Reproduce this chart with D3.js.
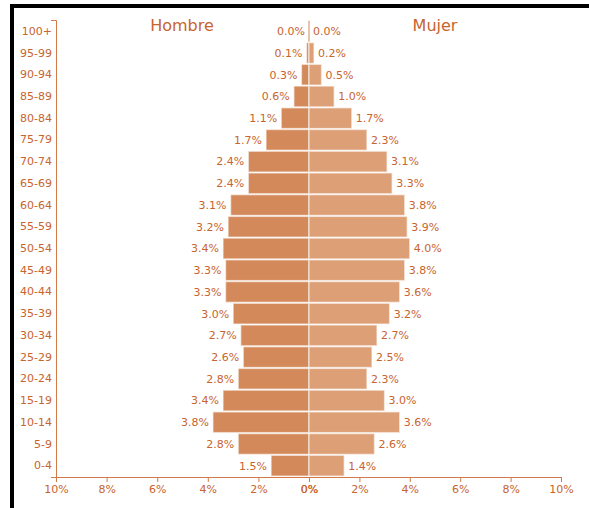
<!DOCTYPE html>
<html>
<head>
<meta charset="utf-8">
<script src="https://cdn.jsdelivr.net/npm/d3@7"></script>
<style>
  body { margin: 0; background: #fff; font-family: "DejaVu Sans", sans-serif; overflow: hidden; }
  #frame { position: absolute; left: 10px; top: 4px; width: 600px; height: 520px; border-left: 4px solid #000; border-top: 4px solid #000; }
  svg { position: absolute; left: 0; top: 0; }
  .lbl { font-size: 11px; fill: #c8642e; }
  .axis text { font-size: 11px; fill: #c8642e; font-family: "DejaVu Sans", sans-serif; }
  .axis path, .axis line { stroke: #d07a48; }
</style>
</head>
<body>
<div id="frame"></div>
<div id="chart"></div>
<script>
var ages = ["100+", "95-99", "90-94", "85-89", "80-84", "75-79", "70-74", "65-69", "60-64", "55-59",
  "50-54", "45-49", "40-44", "35-39", "30-34", "25-29", "20-24", "15-19", "10-14", "5-9", "0-4"];
var hombre = [0.0, 0.1, 0.3, 0.6, 1.1, 1.7, 2.4, 2.4, 3.1, 3.2, 3.4, 3.3, 3.3, 3.0, 2.7, 2.6, 2.8, 3.4, 3.8, 2.8, 1.5];
var mujer = [0.0, 0.2, 0.5, 1.0, 1.7, 2.3, 3.1, 3.3, 3.8, 3.9, 4.0, 3.8, 3.6, 3.2, 2.7, 2.5, 2.3, 3.0, 3.6, 2.6, 1.4];
var xTicks = [0, 2, 4, 6, 8, 10];

var width = 589, height = 508;
var mLeft = 56, mCenter = 309, mRight = 561, mTop = 20, mBottom = 477;

var svg = d3.select("#chart").append("svg")
  .attr("width", width)
  .attr("height", height);

var xL = d3.scaleLinear().domain([10, 0]).range([mLeft, mCenter]);
var xR = d3.scaleLinear().domain([0, 10]).range([mCenter, mRight]);
var y = d3.scaleBand().domain(ages).range([mTop, mBottom]).padding(0.04);

// bars, hombre
svg.append("g").selectAll("rect")
  .data(hombre)
  .enter().append("rect")
    .attr("x", function(d) { return xL(d); })
    .attr("y", function(d, i) { return y(ages[i]); })
    .attr("width", function(d) { return mCenter - xL(d); })
    .attr("height", y.bandwidth())
    .attr("fill", "#d4895a")
    .attr("stroke", "rgba(255,255,255,0.55)")
    .attr("stroke-width", 1.5);

// bars, mujer
svg.append("g").selectAll("rect")
  .data(mujer)
  .enter().append("rect")
    .attr("x", mCenter)
    .attr("y", function(d, i) { return y(ages[i]); })
    .attr("width", function(d) { return xR(d) - mCenter; })
    .attr("height", y.bandwidth())
    .attr("fill", "#dc9f76")
    .attr("stroke", "rgba(255,255,255,0.55)")
    .attr("stroke-width", 1.5);

// zero-width bars still show a thin line in the reference
svg.append("g").selectAll("line")
  .data(mujer.filter(function(d) { return d === 0; }))
  .enter().append("line")
    .attr("x1", mCenter).attr("x2", mCenter)
    .attr("y1", y(ages[0])).attr("y2", y(ages[0]) + y.bandwidth())
    .attr("stroke", "#e2b090")
    .attr("stroke-width", 1.5);

// value labels
svg.append("g").selectAll("text")
  .data(hombre)
  .enter().append("text")
    .attr("class", "lbl")
    .attr("x", function(d) { return xL(d) - 4; })
    .attr("y", function(d, i) { return y(ages[i]) + y.bandwidth() / 2; })
    .attr("dy", "0.35em")
    .attr("text-anchor", "end")
    .text(function(d) { return d.toFixed(1) + "%"; });

svg.append("g").selectAll("text")
  .data(mujer)
  .enter().append("text")
    .attr("class", "lbl")
    .attr("x", function(d) { return xR(d) + 4; })
    .attr("y", function(d, i) { return y(ages[i]) + y.bandwidth() / 2; })
    .attr("dy", "0.35em")
    .text(function(d) { return d.toFixed(1) + "%"; });

// axes
svg.append("g")
  .attr("class", "axis")
  .attr("transform", "translate(" + mLeft + ",0)")
  .call(d3.axisLeft(y).tickSize(0).tickSizeOuter(5).tickPadding(4));

svg.append("g")
  .attr("class", "axis")
  .attr("transform", "translate(0," + mBottom + ")")
  .call(d3.axisBottom(xL).tickValues(xTicks).tickFormat(function(d) { return d + "%"; }).tickSizeOuter(5).tickSize(5));

svg.append("g")
  .attr("class", "axis")
  .attr("transform", "translate(0," + mBottom + ")")
  .call(d3.axisBottom(xR).tickValues(xTicks).tickFormat(function(d) { return d + "%"; }).tickSizeOuter(5).tickSize(5));

// titles
svg.append("text")
  .attr("x", 182).attr("y", 31)
  .attr("text-anchor", "middle")
  .attr("font-size", "16px")
  .attr("fill", "#c8642e")
  .text("Hombre");

svg.append("text")
  .attr("x", 435).attr("y", 31)
  .attr("text-anchor", "middle")
  .attr("font-size", "16px")
  .attr("fill", "#c8642e")
  .text("Mujer");
</script>
</body>
</html>
